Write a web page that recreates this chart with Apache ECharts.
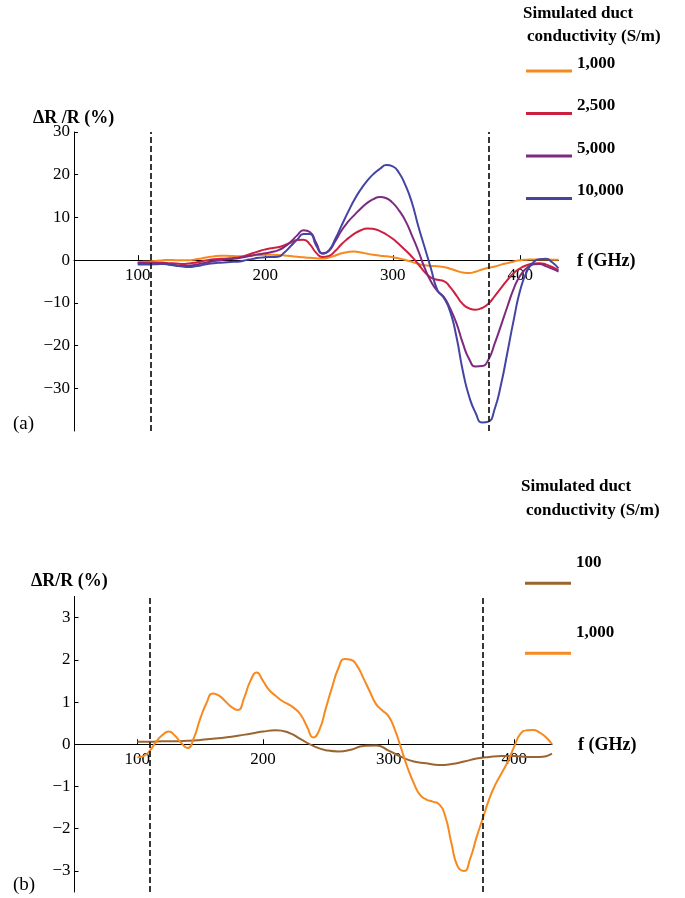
<!DOCTYPE html>
<html><head><meta charset="utf-8">
<script src="https://cdn.jsdelivr.net/npm/echarts@6/dist/echarts.min.js"></script>
<style>html,body{margin:0;padding:0;background:#fff}#c{width:685px;height:898px}</style>
</head><body><div id="c"></div>
<script>
// ---------- data (a) ----------
const freqTop = [100,105,110,115,120,125,130,135,140,145,150,155,160,165,170,175,180,185,190,195,200,205,210,215,220,225,230,235,240,245,250,255,260,265,270,275,280,285,290,295,300,305,310,315,320,325,330,335,340,345,350,355,360,365,370,375,380,385,390,395,400,405,410,415,420,425,430];
const top1000  = [-0.5,-0.4,-0.3,-0.15,0.0,0.05,0.0,0.0,0.0,0.15,0.4,0.7,0.9,1.0,1.0,0.95,0.9,0.95,1.1,1.2,1.25,1.25,1.2,1.1,0.95,0.8,0.65,0.55,0.45,0.38,0.6,1.1,1.6,1.9,2.0,1.8,1.5,1.25,1.05,0.9,0.7,0.4,0.05,-0.4,-0.9,-1.2,-1.35,-1.45,-1.6,-2.0,-2.5,-2.9,-3.0,-2.7,-2.2,-1.8,-1.5,-1.05,-0.7,-0.3,0.0,0.1,0.15,0.15,0.15,0.1,0.1];
const top2500  = [-0.6,-0.6,-0.6,-0.6,-0.6,-0.7,-0.8,-0.9,-0.8,-0.6,-0.3,0.0,0.2,0.3,0.4,0.5,0.7,1.1,1.6,2.1,2.5,2.8,3.0,3.5,4.1,4.7,4.8,3.7,1.7,0.75,1.0,2.2,3.8,5.1,6.2,7.0,7.4,7.3,6.8,6.0,5.0,3.7,2.3,0.8,-0.9,-2.8,-4.1,-4.6,-4.9,-6.3,-8.3,-10.3,-11.3,-11.6,-11.2,-10.2,-8.4,-6.5,-4.6,-3.0,-1.9,-1.2,-0.8,-0.7,-1.0,-1.6,-2.4];
const top5000  = [-0.7,-0.75,-0.8,-0.8,-0.8,-1.0,-1.2,-1.35,-1.3,-1.1,-0.8,-0.5,-0.2,0.0,0.2,0.35,0.5,0.8,1.1,1.4,1.6,1.9,2.3,3.1,4.3,5.8,7.0,6.6,4.0,1.6,2.2,4.5,7.0,9.0,10.6,12.1,13.4,14.3,14.8,14.5,13.4,11.6,9.2,5.8,2.2,-1.8,-5.0,-7.2,-8.6,-11.3,-14.8,-19.5,-23.2,-24.9,-24.8,-23.3,-19.5,-15.2,-10.8,-6.6,-3.6,-1.9,-1.0,-0.9,-1.4,-2.0,-2.7];
const top10000 = [-1.0,-1.0,-1.0,-0.95,-0.9,-1.1,-1.3,-1.5,-1.6,-1.45,-1.2,-0.9,-0.7,-0.6,-0.5,-0.4,-0.3,0.0,0.3,0.55,0.7,0.75,0.8,1.8,3.3,4.8,6.1,6.1,3.4,1.5,2.3,5.0,8.2,11.3,14.2,16.6,18.6,20.2,21.4,22.25,21.95,20.4,17.5,13.5,8.0,3.0,-2.0,-7.0,-8.8,-12.0,-18.0,-26.0,-32.0,-35.8,-38.0,-37.8,-34.8,-29.0,-21.5,-13.8,-7.0,-2.8,-0.6,0.2,0.3,-0.5,-1.9];
const legendTop = ['1,000','2,500','5,000','10,000'];
const yTicksTop = [-30,-20,-10,0,10,20,30];

// ---------- data (b) ----------
const freqBottom = [100,105,110,115,120,125,130,135,140,145,150,155,160,165,170,175,180,185,190,195,200,205,210,215,220,225,230,235,240,245,250,255,260,265,270,275,280,285,290,295,300,305,310,315,320,325,330,335,340,345,350,355,360,365,370,375,380,385,390,395,400,405,410,415,420,425,430];
const bottom1000 = [-0.31,-0.28,-0.15,0.06,0.22,0.30,0.2,0.03,-0.09,0.15,0.6,0.97,1.2,1.15,1.02,0.88,0.81,1.1,1.5,1.70,1.50,1.28,1.15,1.03,0.95,0.85,0.70,0.42,0.16,0.35,0.85,1.35,1.8,2.02,2.0,1.85,1.56,1.25,0.95,0.8,0.66,0.34,-0.1,-0.55,-0.92,-1.2,-1.31,-1.36,-1.42,-1.7,-2.35,-2.9,-3.0,-2.7,-2.2,-1.75,-1.3,-0.95,-0.68,-0.4,-0.05,0.25,0.33,0.34,0.28,0.17,0.0];
const freqBrown = [100,110,120,130,140,150,160,170,180,190,200,210,220,230,240,250,260,270,280,290,300,310,320,330,340,350,360,370,380,390,400,410,420,430];
const bottom100 = [0.06,0.06,0.07,0.07,0.08,0.1,0.13,0.16,0.2,0.25,0.3,0.33,0.28,0.12,-0.04,-0.14,-0.17,-0.13,-0.04,-0.03,-0.15,-0.3,-0.41,-0.45,-0.49,-0.47,-0.41,-0.34,-0.30,-0.28,-0.28,-0.30,-0.30,-0.22];
const legendBottom = ['100','1,000'];
const yTicksBottom = [-3,-2,-1,0,1,2,3];

// ---------- shared ----------
const xTickLabels = [100,200,300,400];
const guideFreqs = [110,375];

const SERIF = '"Liberation Serif", "Times New Roman", serif';
const C = {o:'#F7891F', r:'#CC2040', p:'#7E2A7F', b:'#4444A4', br:'#9C6530'};
const zip = (xs, ys) => xs.map((x,i)=>[x, ys[i]]);
const minusFmt = v => (v < 0 ? '\u2212' + Math.abs(v) : String(v));

const G = [
  {left:74, top:132, width:484.5, height:299, ymin:-40, ymax:30},
  {left:74.5, top:596.5, width:477.5, height:295.5, ymin:-3.5, ymax:3.5}
];
// x axis sits on y = 0: offset derived from the y range
const zeroOffset = g => -g.height * (0 - g.ymin) / (g.ymax - g.ymin);

function xAx(gi){
  return {type:'value', gridIndex:gi, min:50, max:430, offset: zeroOffset(G[gi]),
    axisLine:{onZero:false, lineStyle:{color:'#000', width:1}},
    axisTick:{inside:true, length:5, customValues:xTickLabels, lineStyle:{color:'#000'}},
    axisLabel:{customValues:xTickLabels, fontFamily:SERIF, fontSize:17, color:'#000', margin:7},
    splitLine:{show:false}};
}
function yAx(gi, ticks){
  return {type:'value', gridIndex:gi, min:G[gi].ymin, max:G[gi].ymax,
    axisLine:{show:true, onZero:false, lineStyle:{color:'#000', width:1}},
    axisTick:{show:true, inside:true, length:4, customValues:ticks, lineStyle:{color:'#000'}},
    axisLabel:{customValues:ticks, formatter:minusFmt, fontFamily:SERIF, fontSize:17, color:'#000', margin:4},
    splitLine:{show:false}};
}
const guide = {silent:true, symbol:'none', label:{show:false},
  lineStyle:{type:[6,3], color:'#222', width:1.8},
  data: guideFreqs.map(f=>({xAxis:f}))};
function ser(name, data, color, gi, withGuide){
  const s = {type:'line', name, data, xAxisIndex:gi, yAxisIndex:gi, smooth:0.55,
    showSymbol:false, symbol:'none', lineStyle:{color, width:2}, itemStyle:{color}, z:2};
  if (withGuide) s.markLine = guide;
  return s;
}
const iconTop = 'path://M0,0L46,0L46,0.01L0,0.01Z M0,15L46,15L46,18L0,18Z';
const iconBot = 'path://M0,0L46,0L46,0.01L0,0.01Z M0,41L46,41L46,44L0,44Z';
const legTxt = {fontFamily:SERIF, fontWeight:'bold', fontSize:17, color:'#000'};

function txt(x, y, text, font){
  return {type:'text', x, y, style:{text, font, fill:'#000', textAlign:'left', textVerticalAlign:'middle', verticalAlign:'middle'}};
}
const B18 = 'bold 18px ' + SERIF, B17 = 'bold 17px ' + SERIF, R19 = '19px ' + SERIF;

const chart = echarts.init(document.getElementById('c'), null, {renderer:'canvas'});
chart.setOption({
  animation:false,
  backgroundColor:'#fff',
  grid: G.map(g=>({left:g.left, top:g.top, width:g.width, height:g.height})),
  xAxis:[xAx(0), xAx(1)],
  yAxis:[yAx(0,yTicksTop), yAx(1,yTicksBottom)],
  legend:[
    {orient:'vertical', left:526, top:54.5, padding:0, itemWidth:46, itemHeight:18, itemGap:24.5,
     icon:iconTop, data:legendTop, textStyle:legTxt, itemStyle:{borderWidth:0}, selectedMode:false},
    {orient:'vertical', left:525, top:540.8, padding:0, itemWidth:46, itemHeight:44, itemGap:26,
     icon:iconBot, data:legendBottom, textStyle:legTxt, itemStyle:{borderWidth:0}, selectedMode:false}
  ],
  series:[
    ser('1,000', zip(freqTop, top1000), C.o, 0, true),
    ser('2,500', zip(freqTop, top2500), C.r, 0, false),
    ser('5,000', zip(freqTop, top5000), C.p, 0, false),
    ser('10,000', zip(freqTop, top10000), C.b, 0, false),
    ser('100', zip(freqBrown, bottom100), C.br, 1, true),
    ser('1,000', zip(freqBottom, bottom1000), C.o, 1, false)
  ],
  graphic:[
    txt(33, 118, '\u0394R /R (%)', B18),
    txt(577, 261, 'f (GHz)', B18),
    txt(13, 424, '(a)', R19),
    txt(523, 14, 'Simulated duct', B17),
    txt(527, 37, 'conductivity (S/m)', B17),
    txt(31, 581, '\u0394R/R (%)', B18),
    txt(578, 745, 'f (GHz)', B18),
    txt(13, 885, '(b)', R19),
    txt(521, 487, 'Simulated duct', B17),
    txt(526, 511, 'conductivity (S/m)', B17)
  ]
});
</script></body></html>
